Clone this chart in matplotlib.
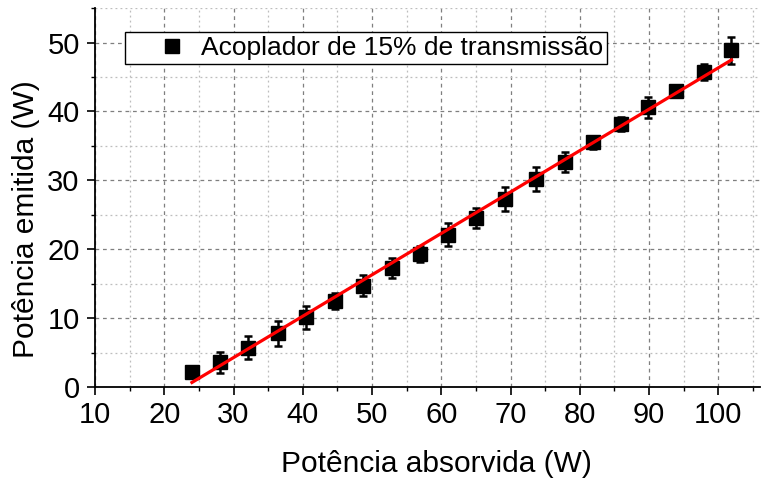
import matplotlib
matplotlib.use("Agg")
import matplotlib.pyplot as plt
from matplotlib.ticker import MultipleLocator

plt.rcParams['font.family'] = ['Liberation Sans', 'DejaVu Sans']

# Absorbed pump power (W) and emitted laser power (W) with uncertainties
absorbed_power = [24.0, 28.1, 32.1, 36.4, 40.5, 44.6, 48.7, 52.85, 56.9, 61.0,
                  65.0, 69.2, 73.7, 77.8, 81.9, 86.0, 89.9, 93.9, 97.95, 101.9]
emitted_power = [2.2, 3.6, 5.7, 7.8, 10.1, 12.5, 14.7, 17.3, 19.3, 22.1,
                 24.5, 27.3, 30.2, 32.7, 35.5, 38.2, 40.6, 43.0, 45.7, 48.9]
emitted_err = [0.8, 1.55, 1.7, 1.8, 1.7, 1.2, 1.5, 1.5, 1.2, 1.65,
               1.45, 1.75, 1.7, 1.45, 0.9, 1.0, 1.55, 0.9, 1.2, 1.95]

# Linear fit parameters (slope efficiency and offset)
fit_slope = 0.601
fit_intercept = -13.76

legend_label = "Acoplador de 15% de transmissão"

fig = plt.figure(figsize=(7.66, 4.79), dpi=100)
ax = fig.add_axes([0.124, 0.192, 0.868, 0.791])

ax.set_xlim(10, 106)
ax.set_ylim(0, 55)

ax.xaxis.set_major_locator(MultipleLocator(10))
ax.xaxis.set_minor_locator(MultipleLocator(5))
ax.yaxis.set_major_locator(MultipleLocator(10))
ax.yaxis.set_minor_locator(MultipleLocator(5))

ax.grid(which='major', color='#7f7f7f', linestyle=(0, (3, 3)), linewidth=0.9)
ax.grid(which='minor', color='#bdbdbd', linestyle=(0, (1.5, 2.5)), linewidth=0.9)
ax.set_axisbelow(True)

for side in ('top', 'right'):
    ax.spines[side].set_visible(False)
for side in ('left', 'bottom'):
    ax.spines[side].set_linewidth(1.3)

ax.tick_params(which='major', direction='out', length=6, width=1.2,
               labelsize=21, pad=4)
ax.tick_params(axis='y', which='major', pad=5)
ax.tick_params(which='minor', direction='out', length=3, width=1.0)

ax.errorbar(absorbed_power, emitted_power, yerr=emitted_err, fmt='s',
            color='black', markersize=10.5, capsize=3, capthick=1.8,
            elinewidth=1.8, label=legend_label, zorder=3)

x_fit = [absorbed_power[0], absorbed_power[-1]]
y_fit = [fit_slope * v + fit_intercept for v in x_fit]
ax.plot(x_fit, y_fit, color='#ff0000', linewidth=2.3, zorder=4)

ax.set_xlabel("Potência absorvida (W)", fontsize=21.5)
ax.set_ylabel("Potência emitida (W)", fontsize=21.5)
ax.xaxis.set_label_coords(0.513, -0.165)
ax.yaxis.set_label_coords(-0.082, 0.443)

handles, labels = ax.get_legend_handles_labels()
leg = ax.legend([handles[0][0]], [labels[0]], loc='upper left',
                bbox_to_anchor=(0.045, 0.937), borderaxespad=0,
                fontsize=19, frameon=True, fancybox=False, framealpha=1,
                edgecolor='black', handlelength=3.26, handletextpad=-0.53,
                borderpad=0.15, markerscale=1.0)
leg.get_frame().set_linewidth(1.0)

fig.savefig("out.png", dpi=100)
